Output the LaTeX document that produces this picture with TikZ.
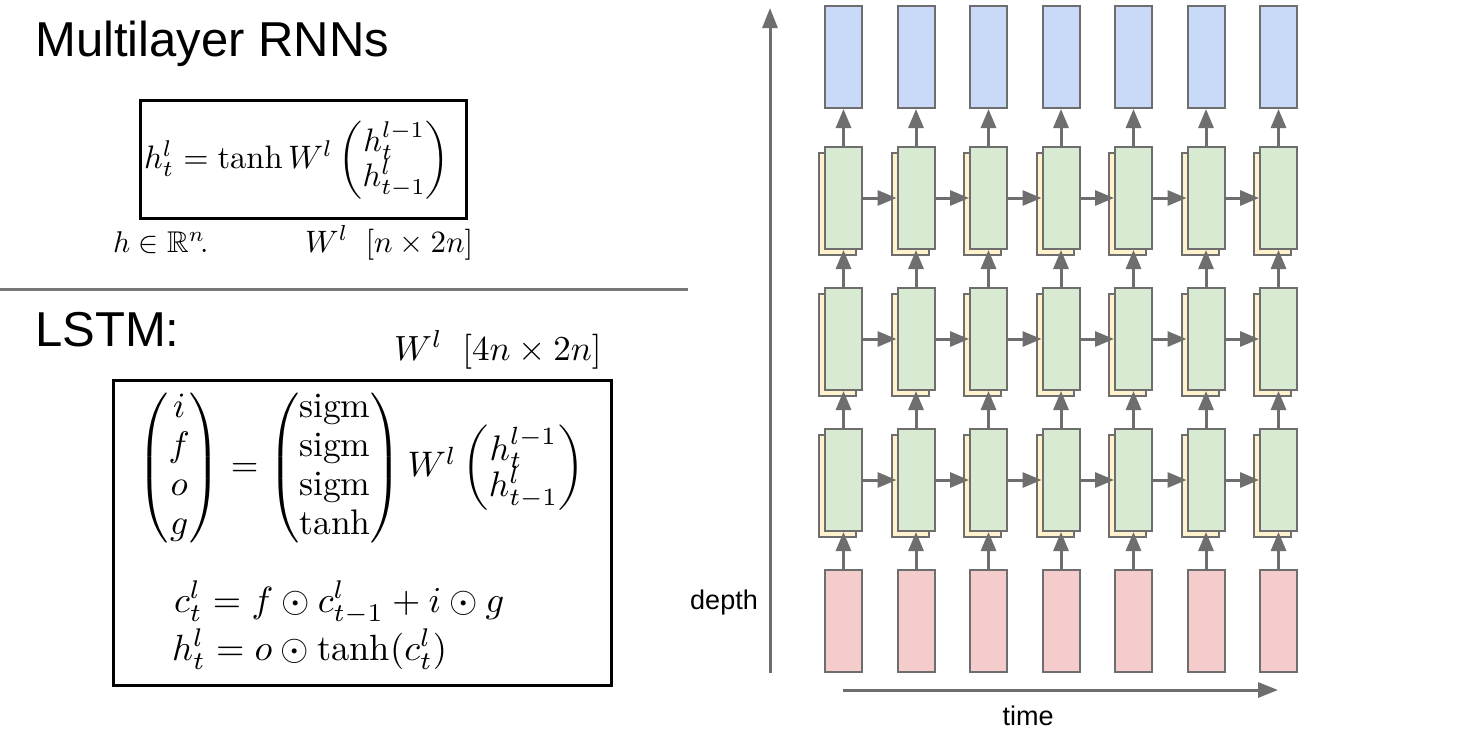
\documentclass[tikz,border=0pt]{standalone}
\usepackage{amsmath,amssymb}
\usepackage{graphicx}
\usepackage{fontspec}
\newfontfamily\arialf{Liberation Sans}
\usetikzlibrary{arrows.meta}
\definecolor{gridgray}{HTML}{6E6E6E}
\definecolor{sepgray}{HTML}{777777}
\definecolor{cblue}{HTML}{C9DAF8}
\definecolor{cgreen}{HTML}{D9EAD3}
\definecolor{cyellow}{HTML}{FFF2CC}
\definecolor{cred}{HTML}{F4CCCC}
\tikzset{
  cell/.style={rectangle, draw=gridgray, line width=2pt, minimum width=37pt, minimum height=102pt, inner sep=0pt},
  arr/.style={draw=gridgray, line width=3pt, -{Triangle[length=19pt,width=15pt]}},
  axisarr/.style={draw=gridgray, line width=3pt, -{Triangle[length=20pt,width=15pt]}},
  title/.style={font=\arialf\fontsize{49}{56}\selectfont, inner sep=0pt},
  lab/.style={font=\arialf\fontsize{27}{32}\selectfont, inner sep=0pt},
  eqbox/.style={rectangle, draw=black, line width=3pt, inner sep=0pt},
  eq/.style={inner sep=0pt},
  sepline/.style={draw=sepgray, line width=3pt}
}
\begin{document}
\begin{tikzpicture}[x=1pt,y=-1pt]
\useasboundingbox[fill=white] (0,0) rectangle (1469,734);
% ---------- left side ----------
\node[title, anchor=base west] (t1) at (35,56) {Multilayer RNNs};
\node[eqbox, minimum width=326pt, minimum height=118pt] (box1) at (303,159) {};
\node[eq] (eq1) at (297,160) {\scalebox{3.25}{$h_t^l = \tanh W^l \left(\begin{array}{@{}c@{}} h_t^{l-1}\\[-1.5pt] h_{t-1}^l\end{array}\right)$}};
\node[eq, anchor=base west] (hr) at (113,252) {\scalebox{3.0}{$h\in\mathbb{R}^n\!.$}};
\node[eq, anchor=base west] (wl1) at (305,252) {\scalebox{3.1}{$W^l\;\; [n\times 2n]$}};
\coordinate (s1) at (0,289);
\coordinate (s2) at (688,289);
\draw[sepline] (s1) -- (s2);
\node[title, anchor=base west] (t2) at (35,346) {LSTM:};
\node[eq, anchor=base west] (wl2) at (394,360) {\scalebox{3.5}{$W^l\;\; [4n\times 2n]$}};
\node[eqbox, minimum width=498pt, minimum height=305pt] (box2) at (362,532.5) {};
\node[eq] (eq2) at (361,468) {\scalebox{3.55}{\renewcommand{\arraystretch}{0.92}$\begin{pmatrix} i\\ f\\ o\\ g\end{pmatrix} = \begin{pmatrix}\mathrm{sigm}\\ \mathrm{sigm}\\ \mathrm{sigm}\\ \tanh\end{pmatrix} W^l \left(\begin{array}{@{}c@{}} h_t^{l-1}\\[-1.5pt] h_{t-1}^l\end{array}\right)$}};
\node[eq, anchor=base west] (eq3) at (174,612) {\scalebox{3.65}{$c_t^l = f\odot c_{t-1}^l + i\odot g$}};
\node[eq, anchor=base west] (eq4) at (172,660) {\scalebox{3.65}{$h_t^l = o\odot \tanh(c_t^l)$}};
% ---------- right side ----------
\foreach \i in {0,...,6} {
  \pgfmathsetmacro{\cx}{843.5+72.5*\i}
  \node[cell, fill=cblue] (b\i) at (\cx,57) {};
  \foreach \r/\cy in {1/198,2/339,3/480} {
    \node[cell, fill=cyellow] (y\r\i) at (\cx-6,\cy+6) {};
    \node[cell, fill=cgreen] (g\r\i) at (\cx,\cy) {};
  }
  \node[cell, fill=cred] (r\i) at (\cx,621) {};
}
\foreach \i in {0,...,6} {
  \draw[arr] (r\i.north) -- (g3\i.south);
  \draw[arr] (g3\i.north) -- (g2\i.south);
  \draw[arr] (g2\i.north) -- (g1\i.south);
  \draw[arr] (g1\i.north) -- (b\i.south);
}
\foreach \r in {1,2,3} {
  \foreach \i [evaluate=\i as \j using int(\i+1)] in {0,...,5} {
    \draw[arr] (g\r\i.east) -- (g\r\j.west);
  }
}
\coordinate (ya) at (770,673);
\coordinate (yb) at (770,8);
\draw[axisarr] (ya) -- (yb);
\coordinate (ta) at (843,690);
\coordinate (tb) at (1278,690);
\draw[axisarr] (ta) -- (tb);
\node[lab] (depth) at (724,603) {depth};
\node[lab] (time) at (1028,716) {time};
\end{tikzpicture}
\end{document}
